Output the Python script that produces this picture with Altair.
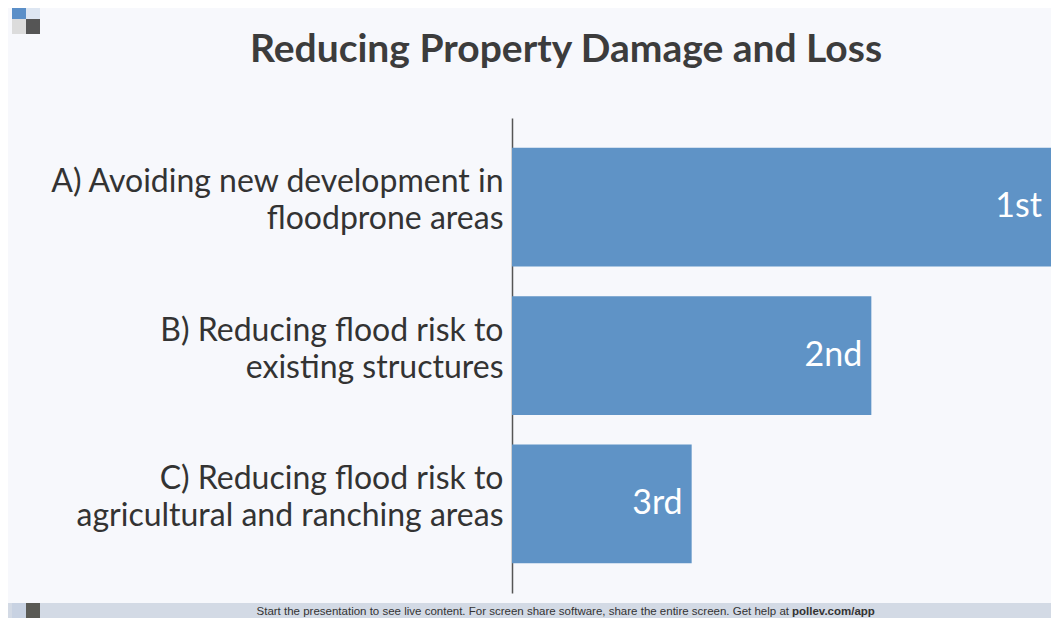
import altair as alt
import pandas as pd

# ---- data ----
options = [
    "A) Avoiding new development in|floodprone areas",
    "B) Reducing flood risk to|existing structures",
    "C) Reducing flood risk to|agricultural and ranching areas",
]
scores = [3, 2, 1]
ranks = ["1st", "2nd", "3rd"]

title_text = "Reducing Property Damage and Loss"
footer_text = "Start the presentation to see live content. For screen share software, share the entire screen. Get help at"
footer_link = "pollev.com/app"

df = pd.DataFrame({"option": options, "score": scores, "rank": ranks})

BAR = "#5f93c6"
BG = "#f7f8fc"
FONT = "Lato"

W, H = 539, 475

y_enc = alt.Y(
    "option:N",
    sort=options,
    scale=alt.Scale(paddingInner=0.2, paddingOuter=0.2),
    axis=alt.Axis(
        title=None,
        ticks=False,
        domainColor="#555555",
        domainWidth=1.5,
        labelFontSize=32,
        labelFont=FONT,
        labelColor="#333333",
        labelPadding=9,
        labelLineHeight=37,
        labelLimit=600,
        labelOffset=-25,
        labelExpr="split(datum.label, '|')",
    ),
)
x_enc = alt.X("score:Q", scale=alt.Scale(domain=[0, 3], nice=False), axis=None)

base = alt.Chart(df)
bars = base.mark_bar(color=BAR).encode(y=y_enc, x=x_enc)
labels = base.mark_text(
    align="right", baseline="middle", dx=-9, color="white", fontSize=34, font=FONT
).encode(y=alt.Y("option:N", sort=options), x="score:Q", text="rank:N")

one = pd.DataFrame({"k": [0]})


def rect(x1, x2, y1, y2, color):
    return alt.Chart(one).mark_rect(color=color).encode(
        x=alt.value(x1), x2=alt.value(x2), y=alt.value(y1), y2=alt.value(y2)
    )


footer_band = rect(-504, W, 485, 500, "#d3dae5")
logo = [
    rect(-500, -486, -111, -99, "#5b8fc8"),
    rect(-486, -472, -111, -99, "#dde6f2"),
    rect(-500, -486, -99, -84, "#dcdcdc"),
    rect(-486, -472, -99, -84, "#555555"),
    rect(-486, -472, 485, 500, "#5a5a55"),
    rect(-500, -486, 485, 500, "#c8d2e2"),
]

title = alt.Chart(one).mark_text(
    align="center", baseline="alphabetic", fontSize=39, font=FONT,
    fontWeight="bold", color="#3c3c3c"
).encode(x=alt.value(54), y=alt.value(-56), text=alt.value(title_text))

footer1 = alt.Chart(one).mark_text(
    align="right", baseline="middle", fontSize=11.5, font="Liberation Sans", color="#333333"
).encode(x=alt.value(277), y=alt.value(494), text=alt.value(footer_text))
footer2 = alt.Chart(one).mark_text(
    align="left", baseline="middle", fontSize=11.5, font="Liberation Sans",
    fontWeight="bold", color="#333333"
).encode(x=alt.value(280), y=alt.value(494), text=alt.value(footer_link))

chart = alt.layer(
    footer_band, *logo, bars, labels, title, footer1, footer2
).properties(
    width=W,
    height=H,
    autosize=alt.AutoSizeParams(type="none"),
    padding={"left": 504, "top": 110, "right": 0, "bottom": 25},
    background=BG,
).configure_view(stroke=None)

chart.save("out.html", embed_options={"renderer": "svg", "actions": False})
